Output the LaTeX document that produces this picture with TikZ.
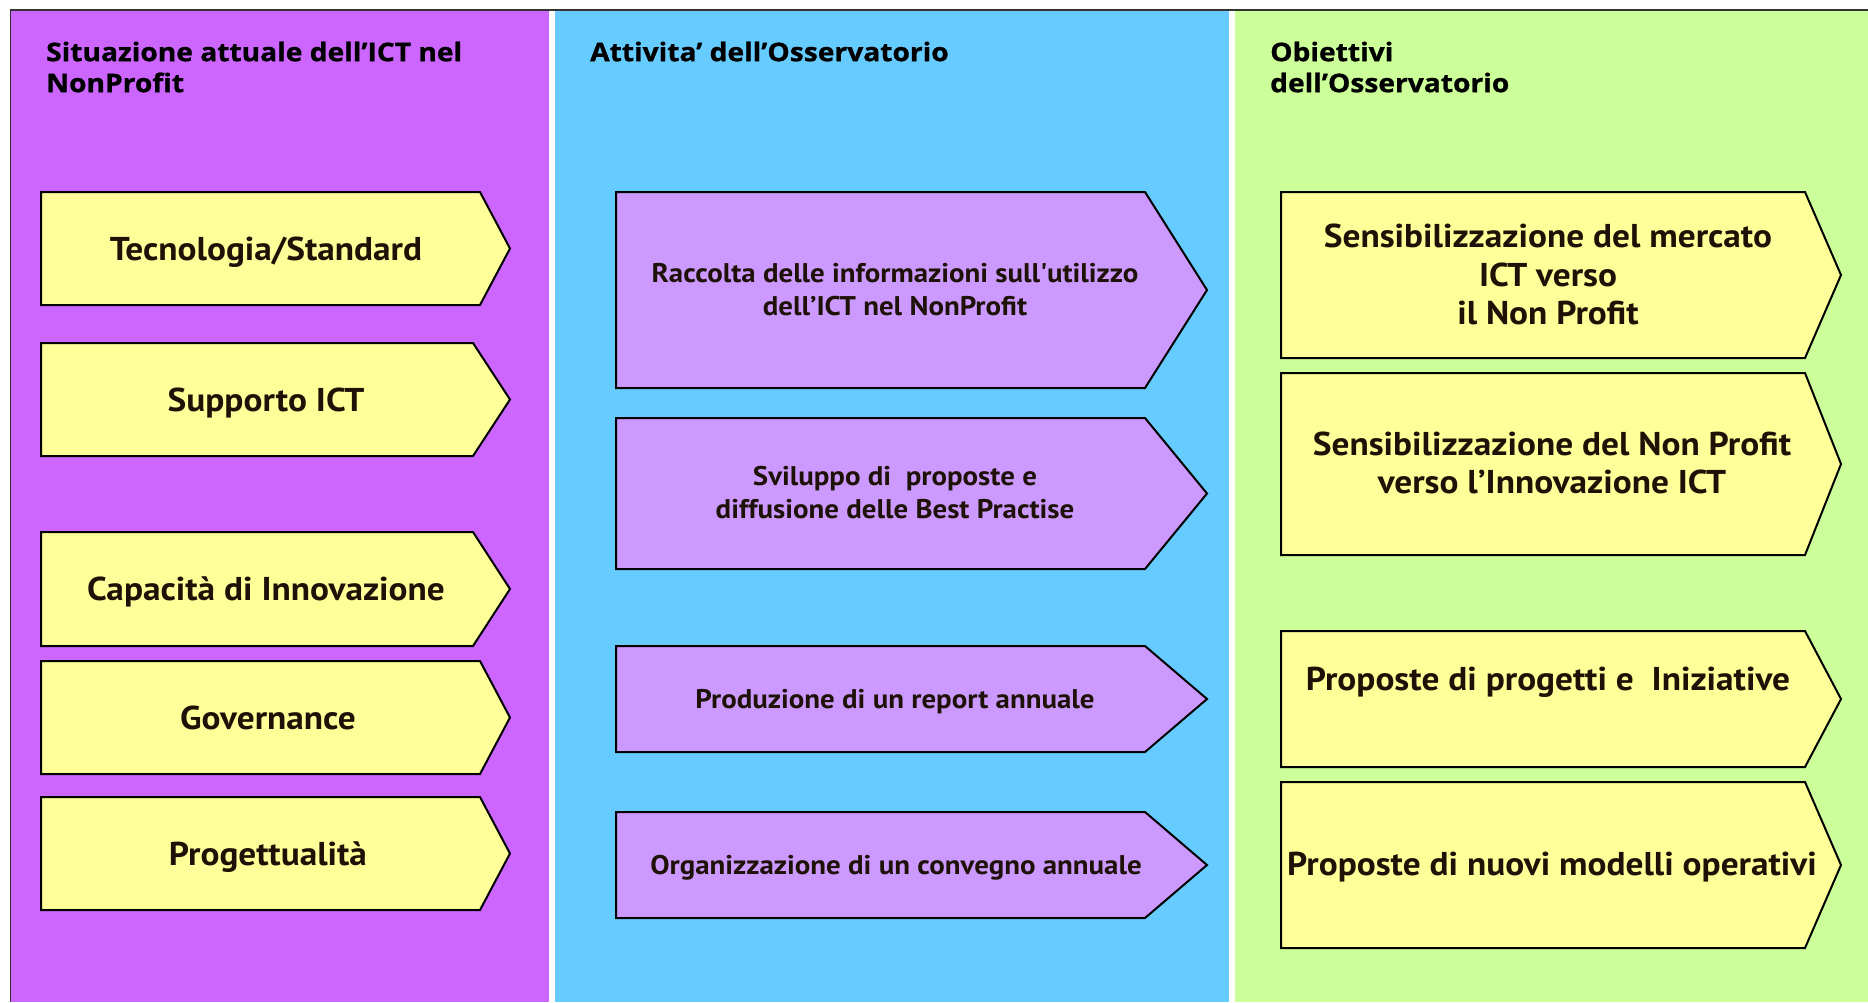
\documentclass[tikz,border=0pt]{standalone}
\usepackage{fontspec}
\setmainfont{PT Sans}
\newfontfamily\boxfont{PT Sans}[FakeStretch=1.07]
\newfontfamily\titlefont{Open Sans}[FakeStretch=1.1, BoldFeatures={FakeBold=1}]
\definecolor{colpurple}{HTML}{CC66FF}
\definecolor{colblue}{HTML}{66CCFF}
\definecolor{colgreen}{HTML}{CCFF99}
\definecolor{boxyellow}{HTML}{FFFF99}
\definecolor{boxpurple}{HTML}{CC99FF}
\definecolor{txt}{HTML}{1E1206}
\definecolor{framecol}{HTML}{333333}
\newcommand\pentabox[7]{% name, fill, x1, y1, xr, xt, y2
  \draw[boxline, fill=#2] (#3,#4) -- (#5,#4) -- (#6,{(#4+#7)/2}) coordinate (#1tip) -- (#5,#7) -- (#3,#7) -- cycle;
  \coordinate (#1nw) at (#3,#4);
}
\begin{document}
\begin{tikzpicture}[x=1pt,y=-1pt,
  boxline/.style={draw=black, line width=2pt, line join=miter},
  ytext/.style={text=txt, font=\boxfont\bfseries\fontsize{33}{38.5}\selectfont, inner sep=0pt, align=center},
  mtext/.style={text=txt, font=\boxfont\bfseries\fontsize{27}{33}\selectfont, inner sep=0pt, align=center},
  coltitle/.style={text=black, font=\titlefont\bfseries\fontsize{25.6}{31}\selectfont, inner sep=0pt, align=left, anchor=north west},
  framel/.style={draw=framecol, line width=1.5pt}]
\useasboundingbox (0,0) rectangle (1868,1002);
\fill[white] (0,0) rectangle (1868,1002);
% columns
\fill[colpurple] (10.7,10) rectangle (549,1002);
\fill[colblue] (555,10) rectangle (1229,1002);
\fill[colgreen] (1235,10) rectangle (1868,1002);
\draw[framel] (1868,10) -- (10.7,10) -- (10.7,1002);
% titles
\node[coltitle] (t1) at (46,41.5) {Situazione attuale dell’ICT nel\\NonProfit};
\node[coltitle] (t2) at (590,41.5) {Attivita’ dell’Osservatorio};
\node[coltitle] (t3) at (1270,41.5) {Obiettivi\\dell’Osservatorio};
% left column
\pentabox{l1}{boxyellow}{41}{192}{480}{510}{305}
\pentabox{l2}{boxyellow}{41}{343}{473}{510}{456}
\pentabox{l3}{boxyellow}{41}{532}{473}{510}{646}
\pentabox{l4}{boxyellow}{41}{661}{480}{510}{774}
\pentabox{l5}{boxyellow}{41}{797}{480}{510}{910}
\node[ytext, anchor=base] (l1t) at (266,260) {Tecnologia/Standard};
\node[ytext, anchor=base] (l2t) at (266,411) {Supporto ICT};
\node[ytext, anchor=base] (l3t) at (266,600.5) {Capacità di Innovazione};
\node[ytext, anchor=base] (l4t) at (268,729) {Governance};
\node[ytext, anchor=base] (l5t) at (268,865) {Progettualità};
% middle column
\pentabox{m1}{boxpurple}{616}{192}{1145}{1207}{388}
\pentabox{m2}{boxpurple}{616}{418}{1145}{1207}{569}
\pentabox{m3}{boxpurple}{616}{646}{1145}{1207}{752}
\pentabox{m4}{boxpurple}{616}{812}{1145}{1207}{918}
\node[mtext] (m1t) at (895,289.8) {Raccolta delle informazioni sull\textquotesingle utilizzo\\dell’ICT nel NonProfit};
\node[mtext] (m2t) at (895,492.3) {Sviluppo di~ proposte e\\diffusione delle Best Practise};
\node[mtext, anchor=base] (m3t) at (895,708) {Produzione di un report annuale};
\node[mtext, anchor=base] (m4t) at (896,874) {Organizzazione di un convegno annuale};
% right column
\pentabox{r1}{boxyellow}{1281}{192}{1805}{1841}{358}
\pentabox{r2}{boxyellow}{1281}{373}{1805}{1841}{555}
\pentabox{r3}{boxyellow}{1281}{631}{1805}{1841}{767}
\pentabox{r4}{boxyellow}{1281}{782}{1805}{1841}{948}
\node[ytext] (r1t) at (1548,274.6) {Sensibilizzazione del mercato\\ICT verso\\il Non Profit};
\node[ytext] (r2t) at (1552,463.1) {Sensibilizzazione del Non Profit\\verso l’Innovazione ICT};
\node[ytext, anchor=base] (r3t) at (1548,690) {Proposte di progetti e~ Iniziative};
\node[ytext, anchor=base] (r4t) at (1552,875) {Proposte di nuovi modelli operativi};
\end{tikzpicture}
\end{document}
